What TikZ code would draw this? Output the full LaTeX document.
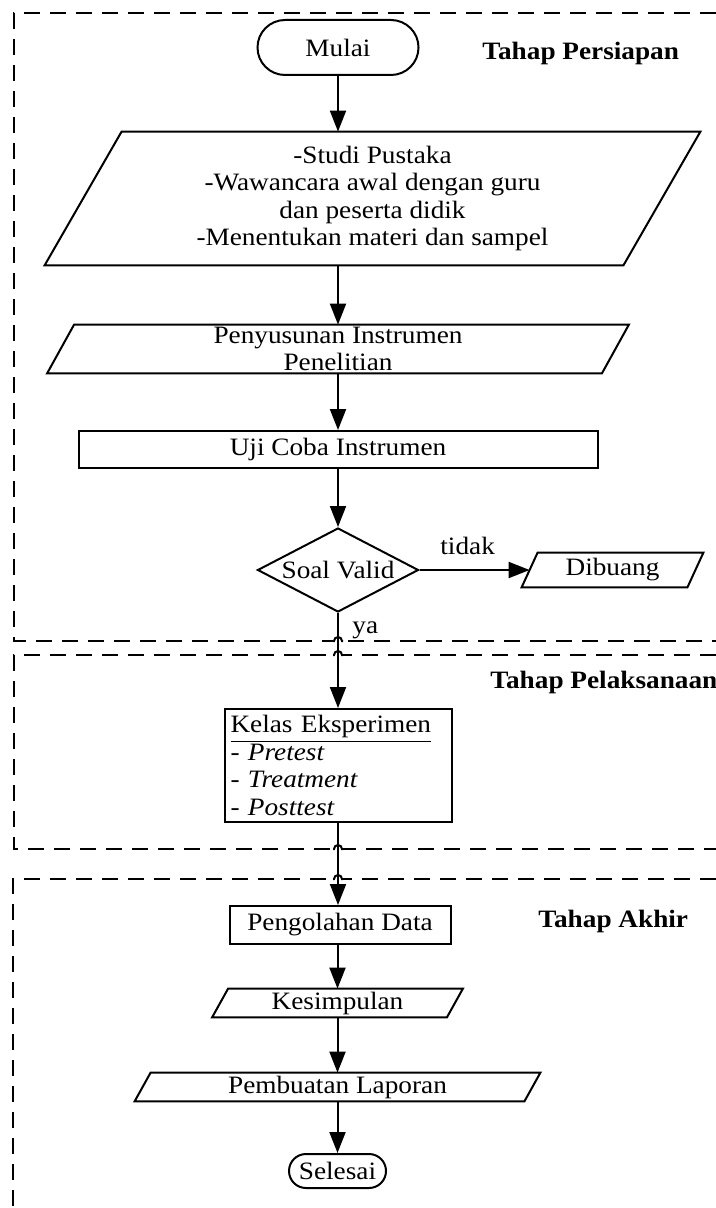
\documentclass[tikz,border=0pt]{standalone}
\usepackage{fontspec}
\setmainfont{Liberation Serif}[FakeStretch=1.09]
\usepackage{tikz}
\usetikzlibrary{arrows.meta, shapes.geometric, shapes.misc}

\begin{document}
\begin{tikzpicture}[x=0.5pt, y=-0.5pt,
    font=\fontsize{12.5}{13.75}\selectfont,
    line/.style={line width=1pt},
    flow/.style={line, -{Triangle[length=10.5pt, width=8pt]}},
    stage/.style={line, dash pattern=on 8pt off 5pt},
    term/.style={draw, line, rounded rectangle, inner sep=0pt},
    proc/.style={draw, line, rectangle, inner sep=0pt},
    iobox/.style={rectangle, inner sep=0pt, align=center},
    decide/.style={draw, line, diamond, aspect=1.92, inner sep=0pt},
    title/.style={font=\fontsize{12.5}{13.75}\selectfont\bfseries, anchor=base west, inner sep=0pt},
    lbl/.style={anchor=base west, inner sep=0pt}]
    \useasboundingbox (0,0) rectangle (716,1208);

    % Draw the stage boxes
    \draw[stage] (716,13) -- (14,13) -- (14,641) -- (716,641);
    \draw[stage] (716,655) -- (14,655) -- (14,849) -- (716,849);
    \draw[stage] (716,879) -- (13,879) -- (13,1208);

    % Gaps in the stage boxes for the line jumps
    \foreach \y in {641,655,849,879} {
        \fill[white] (333,\y-3) rectangle (343,\y+3);
    }

    % Stage titles
    \node[title] (persiapan) at (482,60) {Tahap Persiapan};
    \node[title] (pelaksanaan) at (490,688) {Tahap Pelaksanaan};
    \node[title] (akhir) at (538,927) {Tahap Akhir};

    % Draw the steps
    \node[term, minimum width=80.5pt, minimum height=27.5pt] (mulai) at (338,47.5) {Mulai};
    \node[iobox, minimum width=327.5pt, minimum height=66.5pt] (studi) at (372.5,198.5)
        {-Studi Pustaka\\-Wawancara awal dengan guru\\dan peserta didik\\-Menentukan materi dan sampel};
    \node[iobox, minimum width=290.5pt, minimum height=24pt] (susun) at (338,349)
        {Penyusunan Instrumen\\Penelitian};
    \node[proc, minimum width=259.5pt, minimum height=18.5pt] (uji) at (338,449.5) {Uji Coba Instrumen};
    \node[decide, minimum width=80.5pt, minimum height=42pt] (valid) at (338,570) {Soal Valid};
    \node[iobox, minimum width=90.5pt, minimum height=17pt] (buang) at (612.5,570) {Dibuang};
    \node[proc, minimum width=113.5pt, minimum height=56.5pt, text width=107.5pt, align=left,
        inner xsep=3pt] (kelas) at (338,765.5)
        {\underline{Kelas Eksperimen}\\- \textit{Pretest}\\- \textit{Treatment}\\- \textit{Posttest}};
    \node[proc, minimum width=110.5pt, minimum height=19pt] (olah) at (340,925) {Pengolahan Data};
    \node[iobox, minimum width=125pt, minimum height=14pt] (simpul) at (337.5,1003) {Kesimpulan};
    \node[iobox, minimum width=202.5pt, minimum height=14pt] (lapor) at (337.5,1087) {Pembuatan Laporan};
    \node[term, minimum width=48.5pt, minimum height=17pt] (selesai) at (337.5,1171) {Selesai};

    % Draw the parallelograms round the data steps
    \foreach \n/\s in {studi/38.5, susun/13.5, buang/8, simpul/8, lapor/8} {
        \draw[line] ([xshift=\s*1pt]\n.north west) -- (\n.north east)
            -- ([xshift=-\s*1pt]\n.south east) -- (\n.south west) -- cycle;
    }

    % Draw the arrows
    \draw[flow] (mulai.south) -- (mulai.south |- studi.north);
    \draw[flow] (susun.north |- studi.south) -- (susun.north);
    \draw[flow] (susun.south) -- (uji.north);
    \draw[flow] (uji.south) -- (valid.north);
    \draw[flow] (valid.east) -- ([xshift=4pt]buang.west);
    \draw[flow] (valid.south) -- (kelas.north);
    \draw[flow] (kelas.south) -- (kelas.south |- olah.north);
    \draw[flow] (olah.south -| simpul.north) -- (simpul.north);
    \draw[flow] (simpul.south) -- (lapor.north);
    \draw[flow] (lapor.south) -- (selesai.north);

    % Line jumps over the connector
    \foreach \y in {641,655,849,879} {
        \draw[line] (333,\y) -- (334,\y) arc[start angle=180, end angle=0, radius=2pt] -- (343,\y);
    }

    % Branch labels
    \node[lbl] (tidak) at (440,554) {tidak};
    \node[lbl] (ya) at (352,633) {ya};

\end{tikzpicture}
\end{document}
